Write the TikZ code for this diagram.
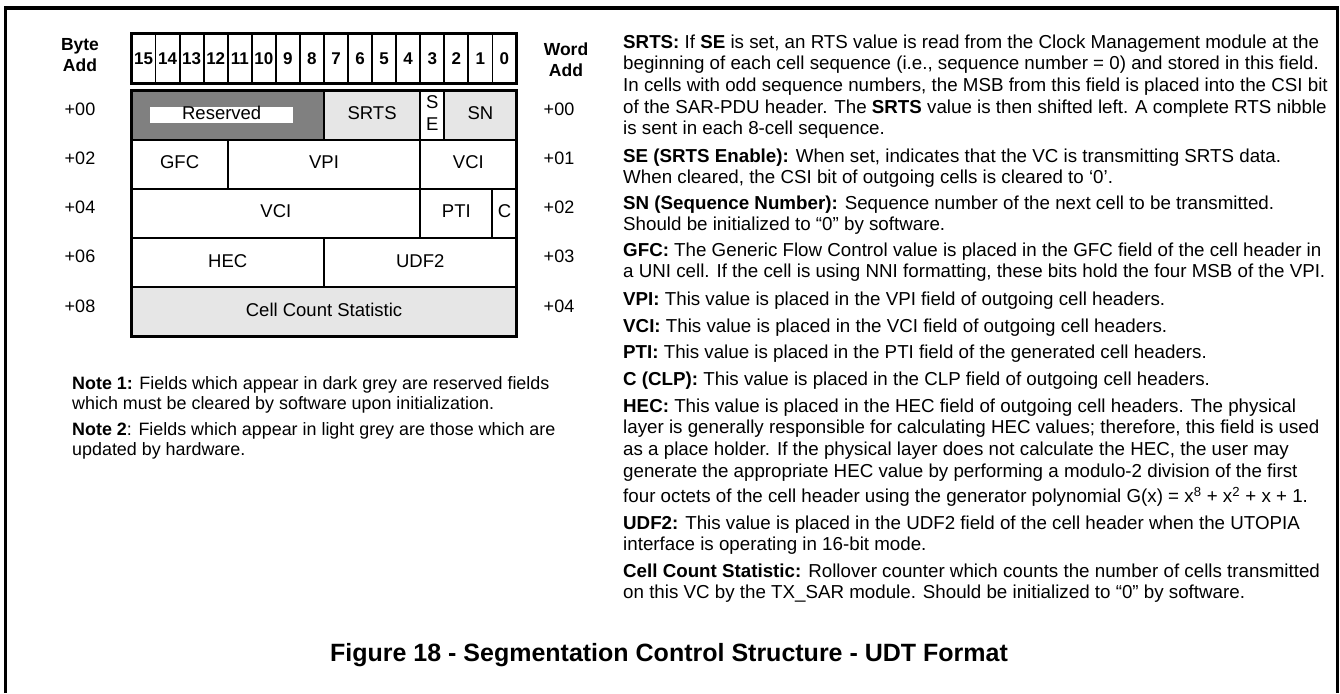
\documentclass[tikz,border=0pt]{standalone}
\usepackage{fontspec}
\setmainfont{Liberation Sans}
\usetikzlibrary{positioning}
\definecolor{resDark}{HTML}{808080}
\definecolor{hwLight}{HTML}{E6E6E6}

\begin{document}
\begin{tikzpicture}[
  x=1pt, y=-1pt,
  every node/.style={inner sep=0pt},
  bitcell/.style={
    draw, line width=1.8pt,
    minimum width=24.06pt, minimum height=49pt,
    font=\fontsize{17}{20}\selectfont\bfseries
  },
  fieldbox/.style={draw, line width=2pt},
  fieldtext/.style={font=\fontsize{18.5}{21.7}\selectfont, align=center},
  addr/.style={font=\fontsize{18}{21}\selectfont},
  addrhead/.style={font=\fontsize{17.5}{21}\selectfont\bfseries, align=center},
  desc/.style={anchor=north west, align=left, font=\fontsize{18.75}{21.7}\selectfont},
  note/.style={anchor=north west, align=left, font=\fontsize{17.9}{20.8}\selectfont},
]
\useasboundingbox (0,0) rectangle (1340,693);

% Outer frame
\draw[line width=3.5pt] (5.5,693) -- (5.5,8) -- (1337.5,8) -- (1337.5,693);

% Address headings
\node[addrhead] (byteadd) at (80,55) {Byte\\Add};
\node[addrhead] (wordadd) at (566,60) {Word\\Add};

% Bit numbers
\foreach \b [count=\k from 0] in {15,14,...,0} {
  \node[bitcell] (bit\b) at ({131.5+(\k+0.5)*24.0625}, 58.5) {\b};
}
\draw[line width=3pt] (131.5,34) rectangle (516.5,83);

% Fields: row/high bit/low bit/fill/text/name
\foreach \row/\hi/\lo/\fc/\txt/\nm in {
  0/15/8/resDark/{}/res, 0/7/4/hwLight/SRTS/srts, 0/3/3/white/{S\\E}/se,
  0/2/0/hwLight/SN/sn,
  1/15/12/white/GFC/gfc, 1/11/4/white/VPI/vpi, 1/3/0/white/VCI/vcihi,
  2/15/4/white/VCI/vcilo, 2/3/1/white/PTI/pti, 2/0/0/white/C/clp,
  3/15/8/white/HEC/hec, 3/7/0/white/UDF2/udf,
  4/15/0/hwLight/Cell Count Statistic/ccs
} {
  \pgfmathsetmacro\cx{131.5+(31-\hi-\lo)/2*24.0625}
  \pgfmathsetmacro\cw{(\hi-\lo+1)*24.0625}
  \pgfmathsetmacro\cy{115.3+\row*49.15}
  \node[fieldbox, fill=\fc, minimum width=\cw pt, minimum height=49.15pt]
    (\nm) at (\cx,\cy) {};
  \node[fieldtext] (\nm-txt) at (\cx,\cy-2) {\txt};
}
\node[fill=white, minimum width=143.5pt, minimum height=16pt] (resbar) at (221.7,114.7) {};
\node[fieldtext] (restxt) at (221.7,112.8) {Reserved};
\draw[line width=2.8pt] (131.5,90.7) rectangle (516.5,336.5);

% Byte and word addresses
\foreach \a [count=\i from 0] in {00,02,04,06,08} {
  \node[addr] (byte\a) at (80,{109.3+\i*49.15}) {+\a};
}
\foreach \a [count=\i from 0] in {00,01,02,03,04} {
  \node[addr] (word\a) at (559,{109.3+\i*49.15}) {+\a};
}

% Notes
\node[note] (note1) at (72,374.4) {\strut\textbf{Note 1:} Fields which appear in dark grey are reserved fields\\
  which must be cleared by software upon initialization.};
\node[note] (note2) at (72,420.4) {\strut\textbf{Note 2}: Fields which appear in light grey are those which are\\
  updated by hardware.};

% Field descriptions
\node[desc] (dsrts) at (623,32.8) {\strut\textbf{SRTS:} If \textbf{SE} is set, an RTS value is read from the Clock Management module at the\\
  beginning of each cell sequence (i.e., sequence number = 0) and stored in this field.\\
  In cells with odd sequence numbers, the MSB from this field is placed into the CSI bit\\
  of the SAR-PDU header. The \textbf{SRTS} value is then shifted left. A complete RTS nibble\\
  is sent in each 8-cell sequence.};
\node[desc] (dse) at (623,146.8) {\strut\textbf{SE (SRTS Enable):} When set, indicates that the VC is transmitting SRTS data.\\
  When cleared, the CSI bit of outgoing cells is cleared to ‘0’.};
\node[desc] (dsn) at (623,193.8) {\strut\textbf{SN (Sequence Number):} Sequence number of the next cell to be transmitted.\\
  Should be initialized to “0” by software.};
\node[desc] (dgfc) at (623,240.8) {\strut\textbf{GFC:} The Generic Flow Control value is placed in the GFC field of the cell header in\\
  a UNI cell. If the cell is using NNI formatting, these bits hold the four MSB of the VPI.};
\node[desc] (dvpi) at (623,289.8) {\strut\textbf{VPI:} This value is placed in the VPI field of outgoing cell headers.};
\node[desc] (dvci) at (623,316.8) {\strut\textbf{VCI:} This value is placed in the VCI field of outgoing cell headers.};
\node[desc] (dpti) at (623,342.8) {\strut\textbf{PTI:} This value is placed in the PTI field of the generated cell headers.};
\node[desc] (dclp) at (623,369.8) {\strut\textbf{C (CLP):} This value is placed in the CLP field of outgoing cell headers.};
\node[desc] (dhec) at (623,396.8) {\strut\textbf{HEC:} This value is placed in the HEC field of outgoing cell headers. The physical\\
  layer is generally responsible for calculating HEC values; therefore, this field is used\\
  as a place holder. If the physical layer does not calculate the HEC, the user may\\
  generate the appropriate HEC value by performing a modulo-2 division of the first\\[4pt]
  four octets of the cell header using the generator polynomial G(x) = x\textsuperscript{8} + x\textsuperscript{2} + x + 1.};
\node[desc] (dudf) at (623,513.8) {\strut\textbf{UDF2:} This value is placed in the UDF2 field of the cell header when the UTOPIA\\
  interface is operating in 16-bit mode.};
\node[desc] (dccs) at (623,561.8) {\strut\textbf{Cell Count Statistic:} Rollover counter which counts the number of cells transmitted\\
  on this VC by the TX\_SAR module. Should be initialized to “0” by software.};

% Caption
\node[font=\fontsize{25}{30}\selectfont\bfseries] (caption) at (669,655)
  {Figure 18 - Segmentation Control Structure - UDT Format};
\end{tikzpicture}
\end{document}
